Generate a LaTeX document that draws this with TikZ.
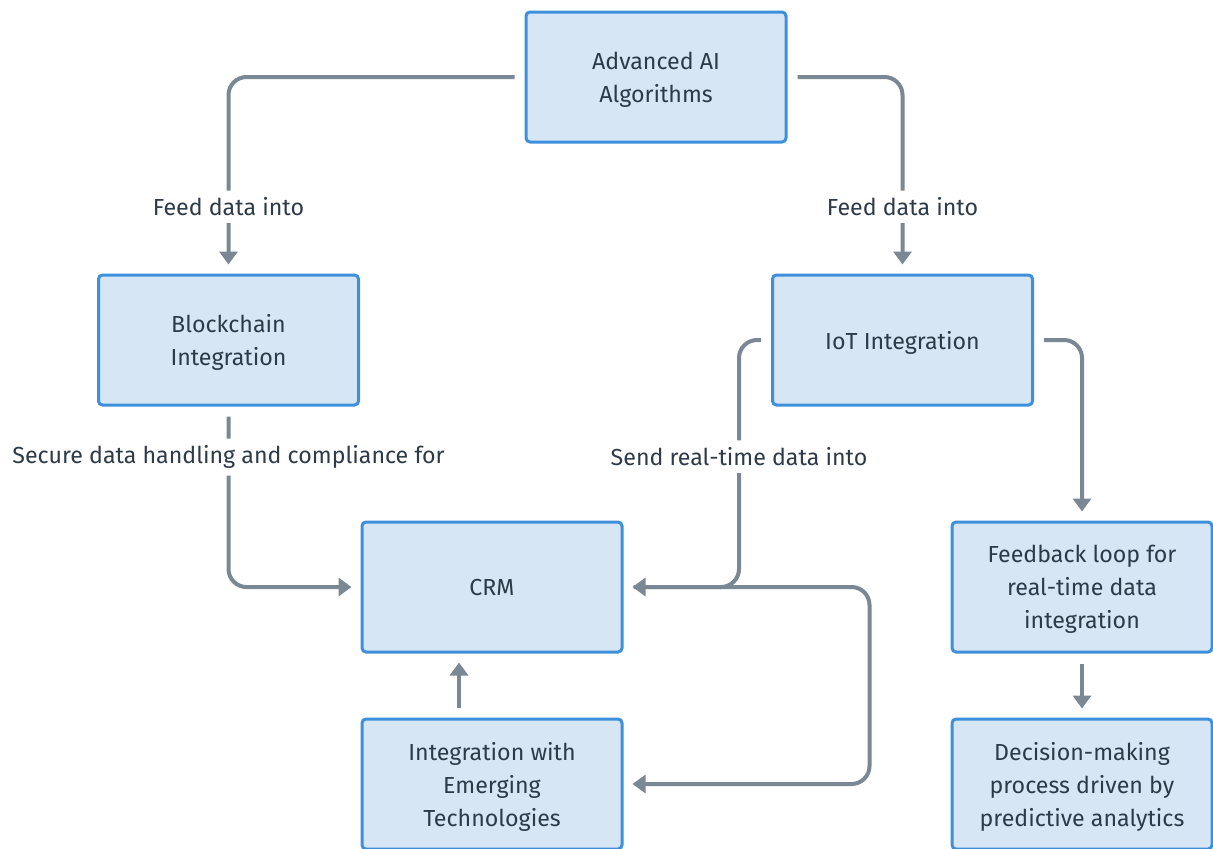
\documentclass[tikz,border=0pt]{standalone}
\usepackage{fontspec}
\setmainfont{Fira Sans}
\usepackage{xcolor}
\usetikzlibrary{positioning,arrows.meta}
\definecolor{boxfill}{RGB}{214,230,245}
\definecolor{boxline}{RGB}{62,144,220}
\definecolor{linkgrey}{RGB}{122,136,149}
\definecolor{inkdark}{RGB}{45,58,72}

\begin{document}
\begin{tikzpicture}[
  x=0.5pt, y=-0.5pt,
  every node/.style={text=inkdark, font=\fontsize{11.6}{16.5}\selectfont},
  block/.style={draw=boxline, fill=boxfill, line width=1.5pt, rounded corners=2pt,
                minimum width=130pt, minimum height=65pt, align=center, inner sep=0pt,
                text depth=0pt},
  arr/.style={-{Triangle[length=6.5pt, width=9pt]}, line width=2pt, draw=linkgrey,
              rounded corners=9pt, shorten <=5pt, shorten >=4.5pt},
  lbl/.style={fill=white, inner sep=3.5pt}
]
\useasboundingbox (0,0) rectangle (1213,848);

\node[block] (algo)     at (656,77)   {Advanced AI\\Algorithms};
\node[block] (chain)    at (228.5,340) {Blockchain\\Integration};
\node[block] (iot)      at (902.5,340) {IoT Integration};
\node[block] (crm)      at (492,587)  {CRM};
\node[block] (emerging) at (492,784)  {Integration with\\Emerging\\Technologies};
\node[block] (feedback) at (1082,587) {Feedback loop for\\real-time data\\integration};
\node[block] (decision) at (1082,784) {Decision-making\\process driven by\\predictive analytics};

\draw[arr] (algo.west) -| node[lbl, pos=0.83]{Feed data into} (chain.north);
\draw[arr] (algo.east) -| node[lbl, pos=0.83]{Feed data into} (iot.north);
\draw[arr] (chain.south) |- node[lbl, pos=0.14]{Secure data handling and compliance for} (crm.west);
\draw[arr] (iot.west) -- ++(-32,0) |- node[lbl, pos=0.236]{Send real-time data into} (crm.east);
\draw[arr] (iot.east) -| (feedback.north);
\draw[arr] (feedback) -- (decision);
\draw[arr] ([xshift=-16.5pt]emerging.north) -- ([xshift=-16.5pt]crm.south);
\draw[arr] (crm.east) -- ++(246,0) |- (emerging.east);

\end{tikzpicture}
\end{document}
